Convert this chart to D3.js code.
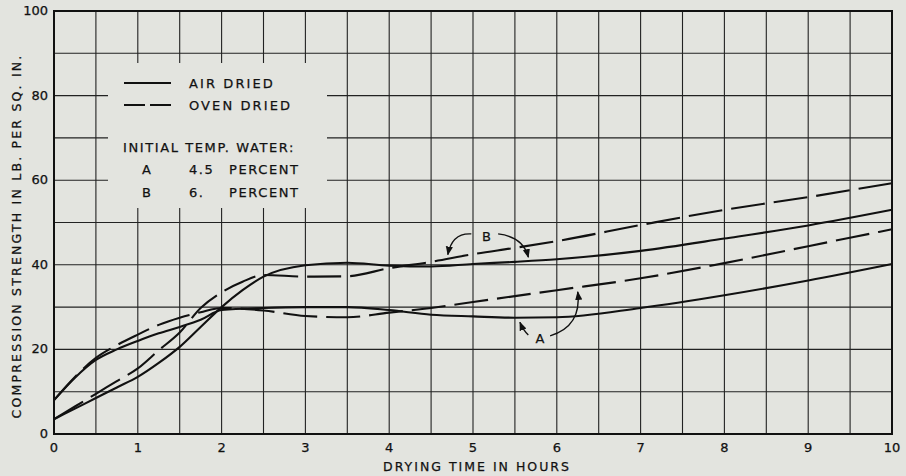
<!DOCTYPE html>
<html lang="en">
<head>
    <meta charset="UTF-8">
    <title>Compression Strength vs Drying Time</title>
    <script src="https://d3js.org/d3.v7.min.js"></script>
    <style>
        body { margin: 0; background: #e3e4df; }
        text { font-family: "DejaVu Sans", sans-serif; fill: #111; stroke: #111; stroke-width: 0.25px; }
    </style>
</head>
<body>
    <svg id="chart" width="906" height="476"></svg>

    <script>
        // Readings (hours, lb per sq. in.)
        const hoursA = [0, 0.25, 0.5, 0.75, 1, 1.25, 1.5, 1.75, 2, 2.5, 3, 3.5, 4, 4.5, 5, 5.5, 6, 7, 8, 9, 10];
        const airDriedA  = [8, 13.3, 17.5, 20, 22, 23.8, 25.3, 27, 29.3, 29.8, 30, 30, 29.3, 28.2, 27.8, 27.5, 27.6, 29.8, 32.8, 36.3, 40.2];
        const ovenDriedA = [8, 13.5, 18, 21, 23.5, 25.8, 27.5, 28.8, 29.8, 29.2, 27.9, 27.6, 28.7, 29.8, 31.2, 32.6, 34, 36.8, 40.4, 44.4, 48.4];

        const hoursB = [0, 0.25, 0.5, 0.75, 1, 1.25, 1.5, 1.75, 2, 2.25, 2.5, 3, 3.5, 4, 4.5, 5, 5.5, 6, 7, 8, 9, 10];
        const airDriedB  = [3.5, 6, 8.5, 11, 13.5, 16.8, 20.6, 25.3, 30, 34, 37.2, 39.9, 40.5, 39.8, 39.6, 40.2, 40.7, 41.3, 43.3, 46.2, 49.3, 53];
        const ovenDriedB = [3.5, 6.5, 9.5, 12.5, 15.5, 19.8, 24, 29.8, 33.5, 36, 37.6, 37.2, 37.3, 39.2, 40.7, 42.5, 44, 45.6, 49.4, 53, 56, 59.3];

        const xTicks = [0, 1, 2, 3, 4, 5, 6, 7, 8, 9, 10];
        const yTicks = [0, 20, 40, 60, 80, 100];

        const svg = d3.select("#chart");
        const bg = "#e3e4df";

        const x = d3.scaleLinear().domain([0, 10]).range([54, 892]);
        const y = d3.scaleLinear().domain([0, 100]).range([434, 11]);

        // grid
        const grid = svg.append("g").attr("stroke", "#222").attr("stroke-width", 1.1);
        grid.selectAll("line.v")
            .data(d3.range(0.5, 10, 0.5))
            .enter().append("line")
            .attr("x1", d => x(d)).attr("x2", d => x(d))
            .attr("y1", y(0)).attr("y2", y(100));
        grid.selectAll("line.h")
            .data(d3.range(10, 100, 10))
            .enter().append("line")
            .attr("x1", x(0)).attr("x2", x(10))
            .attr("y1", d => y(d)).attr("y2", d => y(d));

        // blank area behind the legend
        svg.append("rect")
            .attr("x", 108).attr("y", 63)
            .attr("width", 219).attr("height", 145)
            .attr("fill", bg);

        // frame
        svg.append("rect")
            .attr("x", x(0)).attr("y", y(100))
            .attr("width", x(10) - x(0)).attr("height", y(0) - y(100))
            .attr("fill", "none").attr("stroke", "#111").attr("stroke-width", 2);

        // tick labels
        svg.append("g").selectAll("text")
            .data(xTicks)
            .enter().append("text")
            .attr("x", d => x(d)).attr("y", 452)
            .attr("text-anchor", "middle")
            .attr("font-size", 13)
            .text(d => d);
        svg.append("g").selectAll("text")
            .data(yTicks)
            .enter().append("text")
            .attr("x", 48).attr("y", d => y(d) + 4)
            .attr("text-anchor", "end")
            .attr("font-size", 13)
            .text(d => d);

        // axis titles
        svg.append("text")
            .attr("x", 477).attr("y", 471)
            .attr("text-anchor", "middle")
            .attr("font-size", 12.5)
            .attr("letter-spacing", 2)
            .text("DRYING TIME IN HOURS");
        svg.append("text")
            .attr("transform", "translate(21,236) rotate(-90)")
            .attr("text-anchor", "middle")
            .attr("font-size", 12.5)
            .attr("letter-spacing", 2.2)
            .text("COMPRESSION STRENGTH IN LB. PER SQ. IN.");

        // curves
        const line = d3.line()
            .x(d => x(d[0]))
            .y(d => y(d[1]))
            .curve(d3.curveMonotoneX);

        const series = [
            { hours: hoursA, vals: airDriedA, dash: null },
            { hours: hoursA, vals: ovenDriedA, dash: "34,9" },
            { hours: hoursB, vals: airDriedB, dash: null },
            { hours: hoursB, vals: ovenDriedB, dash: "34,9" }
        ];

        svg.append("g").selectAll("path")
            .data(series)
            .enter().append("path")
            .attr("d", s => line(s.hours.map((h, i) => [h, s.vals[i]])))
            .attr("fill", "none")
            .attr("stroke", "#111")
            .attr("stroke-width", 2.1)
            .attr("stroke-dasharray", s => s.dash);

        // legend
        const lg = svg.append("g");
        lg.append("line").attr("x1", 124).attr("x2", 171).attr("y1", 83).attr("y2", 83)
            .attr("stroke", "#111").attr("stroke-width", 1.8);
        lg.append("line").attr("x1", 124).attr("x2", 171).attr("y1", 105).attr("y2", 105)
            .attr("stroke", "#111").attr("stroke-width", 1.8).attr("stroke-dasharray", "21,5");
        lg.append("text").attr("x", 189).attr("y", 88).attr("font-size", 13)
            .attr("letter-spacing", 2.1).text("AIR DRIED");
        lg.append("text").attr("x", 189).attr("y", 110).attr("font-size", 13)
            .attr("letter-spacing", 2.1).text("OVEN DRIED");
        lg.append("text").attr("x", 123).attr("y", 152).attr("font-size", 13)
            .attr("letter-spacing", 1.6).text("INITIAL TEMP. WATER:");
        lg.append("text").attr("x", 142).attr("y", 174).attr("font-size", 13).text("A");
        lg.append("text").attr("x", 189).attr("y", 174).attr("font-size", 13)
            .attr("letter-spacing", 1.6).text("4.5");
        lg.append("text").attr("x", 229).attr("y", 174).attr("font-size", 13)
            .attr("letter-spacing", 1.6).text("PERCENT");
        lg.append("text").attr("x", 142).attr("y", 197).attr("font-size", 13).text("B");
        lg.append("text").attr("x", 189).attr("y", 197).attr("font-size", 13)
            .attr("letter-spacing", 1.6).text("6.");
        lg.append("text").attr("x", 229).attr("y", 197).attr("font-size", 13)
            .attr("letter-spacing", 1.6).text("PERCENT");

        // annotation arrows
        const defs = svg.append("defs");
        defs.append("marker")
            .attr("id", "head")
            .attr("viewBox", "0 0 10 10")
            .attr("refX", 9).attr("refY", 5)
            .attr("markerWidth", 9).attr("markerHeight", 9)
            .attr("markerUnits", "userSpaceOnUse")
            .attr("orient", "auto")
            .append("path").attr("d", "M0,1 L10,5 L0,9 Z").attr("fill", "#111");

        const arrows = [
            { from: [4.98, 47.3], ctrl: [4.75, 47.6], to: [4.7, 42.4] },
            { from: [5.3, 47.3], ctrl: [5.6, 46.6], to: [5.66, 41.8] },
            { from: [5.66, 23.4], ctrl: [5.6, 24.5], to: [5.56, 26.4] },
            { from: [5.92, 23.2], ctrl: [6.3, 25.5], to: [6.25, 33.6] }
        ];
        svg.append("g").selectAll("path")
            .data(arrows)
            .enter().append("path")
            .attr("d", a => `M${x(a.from[0])},${y(a.from[1])} Q${x(a.ctrl[0])},${y(a.ctrl[1])} ${x(a.to[0])},${y(a.to[1])}`)
            .attr("fill", "none")
            .attr("stroke", "#111")
            .attr("stroke-width", 1.4)
            .attr("marker-end", "url(#head)");

        svg.append("text").attr("x", x(5.16)).attr("y", y(45.6))
            .attr("text-anchor", "middle").attr("font-size", 13).text("B");
        svg.append("text").attr("x", x(5.8)).attr("y", y(21.5))
            .attr("text-anchor", "middle").attr("font-size", 13).text("A");
    </script>
</body>
</html>
